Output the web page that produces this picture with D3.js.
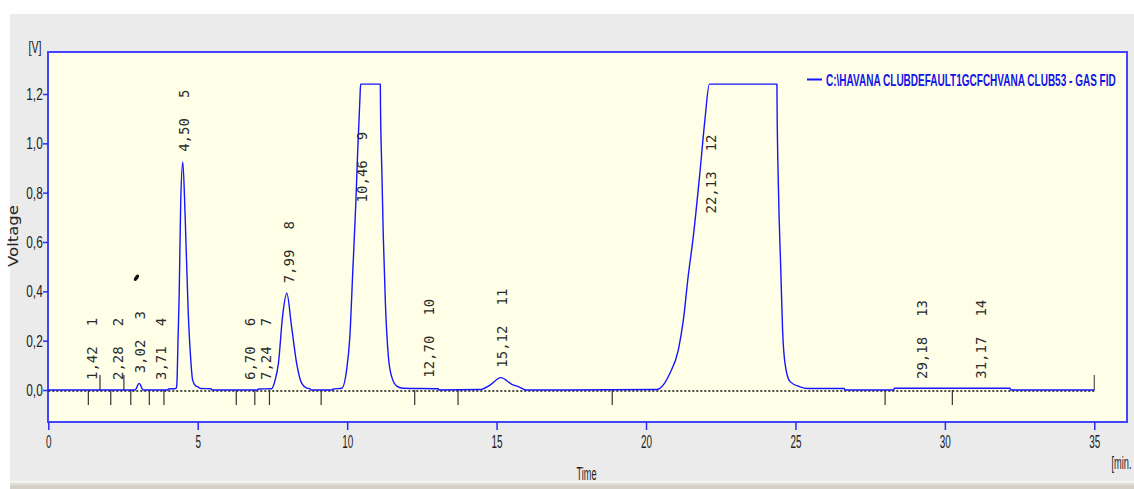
<!DOCTYPE html>
<html>
<head>
<meta charset="utf-8">
<script src="https://cdn.jsdelivr.net/npm/d3@7"></script>
<style>
  html, body { margin: 0; padding: 0; background: #ffffff; }
  svg { display: block; }
</style>
</head>
<body>
<svg id="chart" width="1134" height="489"></svg>
<script>
// ---------------- data ----------------
const xTicks = [0, 5, 10, 15, 20, 25, 30, 35];
const yTicks = [0, 0.2, 0.4, 0.6, 0.8, 1.0, 1.2];

const peakNumbers    = [1, 2, 3, 4, 5, 6, 7, 8, 9, 10, 11, 12, 13, 14];
const peakTimes      = [1.42, 2.28, 3.02, 3.71, 4.50, 6.70, 7.24, 7.99, 10.46, 12.70, 15.12, 22.13, 29.18, 31.17];
const peakTimeLabels = ["1,42", "2,28", "3,02", "3,71", "4,50", "6,70", "7,24", "7,99", "10,46", "12,70", "15,12", "22,13", "29,18", "31,17"];
const labelLevels    = [0, 0, 0.027, 0, 0.925, 0, 0, 0.392, 0.72, 0.009, 0.05, 0.675, 0.004, 0.005];

// chromatogram trace (minutes, volts)
const signalTime = [0, 2.90, 3.04, 3.18, 4.00, 4.02, 4.27, 4.30, 4.34, 4.38, 4.43, 4.50, 4.58, 4.68, 4.76, 4.83, 4.92, 5.02, 5.10, 5.45, 5.47,
  7.01, 7.03, 7.45, 7.48, 7.59, 7.70, 7.84, 7.98, 8.14, 8.31, 8.48, 8.65, 8.76, 8.78,
  9.51, 9.53, 9.82, 9.98, 10.09, 10.19, 10.29, 10.35, 10.43, 10.45, 11.11, 11.115, 11.16, 11.21, 11.28, 11.38, 11.49, 11.66, 11.88, 13.05, 13.07,
  14.45, 14.78, 15.14, 15.51, 15.78, 15.97,
  20.36, 20.80, 21.08, 21.25, 21.41, 21.58, 21.81, 21.97, 22.12, 24.38, 24.385, 24.43, 24.51, 24.57, 24.65, 24.82, 25.15, 25.40, 26.63, 26.65,
  28.29, 28.31, 32.18, 32.20, 35];
const signalVolt = [0, 0, 0.027, 0, 0, 0.004, 0.006, 0.02, 0.2, 0.39, 0.757, 0.925, 0.70, 0.32, 0.135, 0.04, 0.018, 0.012, 0.006, 0.005, 0,
  0, 0.004, 0.005, 0.006, 0.04, 0.108, 0.30, 0.392, 0.257, 0.108, 0.027, 0.008, 0.005, 0,
  0, 0.004, 0.007, 0.08, 0.216, 0.486, 0.757, 0.96, 1.19, 1.24, 1.24, 1.162, 0.892, 0.62, 0.35, 0.135, 0.054, 0.016, 0.007, 0.005, 0,
  0.002, 0.02, 0.05, 0.023, 0.011, 0,
  0.002, 0.068, 0.162, 0.284, 0.46, 0.62, 0.89, 1.094, 1.24, 1.24, 1.162, 0.824, 0.486, 0.243, 0.108, 0.034, 0.013, 0.006, 0.006, 0,
  0, 0.007, 0.007, 0, 0];

const lowerMarks = [1.34, 2.09, 2.76, 3.38, 3.87, 6.29, 6.91, 7.40, 9.13, 12.26, 13.71, 18.87, 28.00, 30.25];
const upperMarks = [1.73, 2.53];
const runEnd = 35;
const legendLabel = "C:\\HAVANA CLUBDEFAULT1GCFCHVANA CLUB53 - GAS FID";

// ---------------- layout ----------------
const svg = d3.select("#chart");
const plotLeft = 48, plotRight = 1127, plotTop = 52, plotBottom = 422;

const x = d3.scaleLinear().domain([0, 35]).range([48.3, 1094.3]);
const y = d3.scaleLinear().domain([0, 1.2]).range([390, 94]);

// squeeze a text horizontally (around its own anchor) to a target width
function fitText(sel, width, tx, ty, extra) {
  const n = sel.node();
  const w = n.getComputedTextLength();
  const s = w > 0 ? width / w : 1;
  sel.attr("x", 0).attr("y", 0)
     .attr("transform", `translate(${tx},${ty})${extra || ""} scale(${s},1)`);
  return sel;
}

// backgrounds
svg.append("rect").attr("x", 0).attr("y", 0).attr("width", 1134).attr("height", 489).attr("fill", "#ffffff");
svg.append("rect").attr("x", 10).attr("y", 14).attr("width", 1124).attr("height", 467).attr("fill", "#ebebeb");
svg.append("rect").attr("x", 10).attr("y", 481).attr("width", 1124).attr("height", 1.5).attr("fill", "#f7f7f7");
svg.append("rect").attr("x", 10).attr("y", 482.5).attr("width", 1124).attr("height", 2).attr("fill", "#e0dfdc");
svg.append("rect").attr("x", 10).attr("y", 484.5).attr("width", 1124).attr("height", 5).attr("fill", "#d4d0c8");

svg.append("rect")
  .attr("x", plotLeft).attr("y", plotTop)
  .attr("width", plotRight - plotLeft).attr("height", plotBottom - plotTop)
  .attr("fill", "#ffffe8").attr("stroke", "#4444ff").attr("stroke-width", 2);

// axes
const xAxis = d3.axisBottom(x).tickValues(xTicks).tickSize(8).tickPadding(5).tickFormat(d3.format("d"));
const gx = svg.append("g").attr("transform", `translate(0,${plotBottom})`).call(xAxis);
gx.select(".domain").remove();
gx.selectAll(".tick line").attr("stroke", "#2a2aff").attr("stroke-width", 1.5);
gx.selectAll(".tick text")
  .attr("fill", "#222").attr("font-family", "Liberation Sans, Arial, sans-serif").attr("font-size", 18)
  .attr("transform", "scale(0.55,1)");

const yAxis = d3.axisLeft(y).tickValues(yTicks).tickSize(5).tickFormat(d => d.toFixed(1).replace(".", ","));
const gy = svg.append("g").attr("transform", `translate(${plotLeft},0)`).call(yAxis);
gy.select(".domain").remove();
gy.selectAll(".tick line").attr("stroke", "#2a2aff").attr("stroke-width", 1.5);
gy.selectAll(".tick text")
  .attr("fill", "#222").attr("font-family", "Liberation Sans, Arial, sans-serif").attr("font-size", 17)
  .attr("x", -7.5).attr("transform", "scale(0.7,1)");

// axis titles
fitText(svg.append("text").attr("font-family", "Liberation Sans, Arial, sans-serif")
  .attr("font-size", 17).attr("fill", "#222").text("[V]"), 13, 28.5, 53);
fitText(svg.append("text").attr("text-anchor", "middle")
  .attr("font-family", "DejaVu Sans, Verdana, sans-serif").attr("font-size", 13.5).attr("fill", "#222")
  .text("Voltage"), 62, 18, 236, " rotate(-90)");
fitText(svg.append("text").attr("font-family", "Liberation Sans, Arial, sans-serif")
  .attr("font-size", 18).attr("fill", "#222").text("Time"), 20, 576.5, 479.5);
fitText(svg.append("text").attr("font-family", "Liberation Sans, Arial, sans-serif")
  .attr("font-size", 18).attr("fill", "#222").text("[min."), 20, 1111.5, 469);

// dotted baseline
svg.append("line")
  .attr("x1", x(0)).attr("x2", x(runEnd)).attr("y1", y(0)).attr("y2", y(0))
  .attr("transform", "translate(0,1)")
  .attr("stroke", "#111").attr("stroke-width", 1.5).attr("stroke-dasharray", "2,2");

// integration marks
svg.append("g").selectAll("line").data(lowerMarks).join("line")
  .attr("x1", d => x(d)).attr("x2", d => x(d)).attr("y1", y(0)).attr("y2", y(0) + 15)
  .attr("stroke", "#333").attr("stroke-width", 1.2);
svg.append("g").selectAll("line").data(upperMarks).join("line")
  .attr("x1", d => x(d)).attr("x2", d => x(d)).attr("y1", y(0)).attr("y2", y(0) - 15)
  .attr("stroke", "#333").attr("stroke-width", 1.2);
svg.append("line").attr("x1", x(runEnd)).attr("x2", x(runEnd)).attr("y1", y(0)).attr("y2", y(0) - 15)
  .attr("stroke", "#555").attr("stroke-width", 1.2);

// signal trace
const signal = signalTime.map((t, i) => [t, signalVolt[i]]);
const line = d3.line().x(d => x(d[0])).y(d => y(d[1])).curve(d3.curveMonotoneX);
svg.append("path").datum(signal).attr("d", line)
  .attr("fill", "none").attr("stroke", "#1515ff").attr("stroke-width", 1.4).attr("stroke-linejoin", "round");

// peak labels
const labels = svg.append("g").selectAll("text").data(peakNumbers).join("text")
  .attr("transform", (d, i) => `translate(${x(peakTimes[i])},${y(labelLevels[i]) - 10}) rotate(-90)`)
  .attr("dy", 6.5)
  .attr("font-family", "DejaVu Sans Mono, monospace").attr("font-size", 14).attr("fill", "#2a2a2a");
labels.append("tspan").text((d, i) => peakTimeLabels[i]);
labels.append("tspan").attr("dx", 20).text(d => d);

// stray mark near peak 3
svg.append("ellipse").attr("cx", x(2.95)).attr("cy", y(0.455)).attr("rx", 1.8).attr("ry", 3.6)
  .attr("transform", `rotate(35,${x(2.95)},${y(0.455)})`).attr("fill", "#111");

// legend
svg.append("line").attr("x1", 807).attr("x2", 822).attr("y1", 79.5).attr("y2", 79.5)
  .attr("stroke", "#1515ff").attr("stroke-width", 2);
fitText(svg.append("text").attr("font-family", "Liberation Sans, Arial, sans-serif")
  .attr("font-weight", "bold").attr("font-size", 17).attr("fill", "#1414e6")
  .text(legendLabel), 290, 826, 86);
</script>
</body>
</html>
